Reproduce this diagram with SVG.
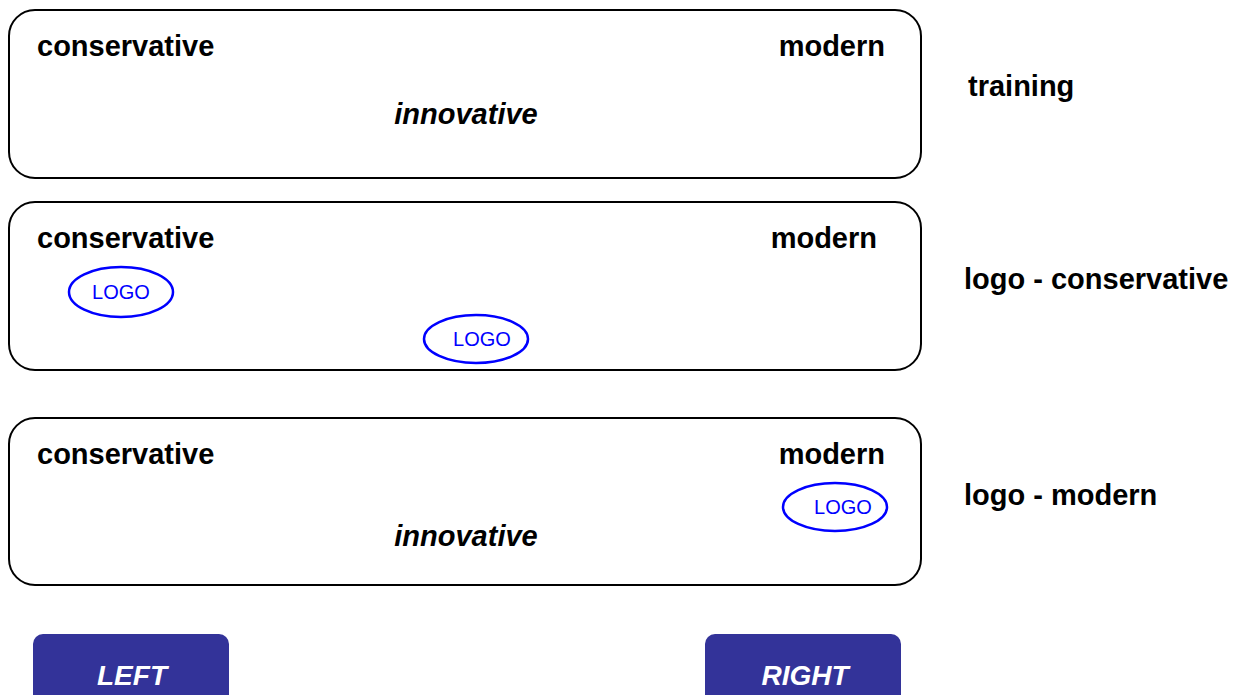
<svg xmlns="http://www.w3.org/2000/svg" width="1245" height="695" viewBox="0 0 1245 695">
<style>
.box{fill:#fff;stroke:#000;stroke-width:2}
.t{font-family:"Liberation Sans",Arial,sans-serif;font-size:29px;font-weight:bold;fill:#000}
.i{font-style:italic}
.logo{fill:#fff;stroke:#0000ff;stroke-width:2.5}
.lt{font-family:"Liberation Sans",Arial,sans-serif;font-size:20px;fill:#0000ff}
.btn{fill:#333399}
.bt{font-family:"Liberation Sans",Arial,sans-serif;font-size:28px;font-weight:bold;font-style:italic;fill:#fff}
</style>
<rect width="1245" height="695" fill="#fff"/>
<g id="panel-training">
<rect class="box" x="9" y="10" width="912" height="168" rx="26"/>
<text class="t" x="37" y="56">conservative</text>
<text class="t" x="885" y="56" text-anchor="end">modern</text>
<text class="t i" x="466" y="124" text-anchor="middle">innovative</text>
</g>
<g id="label-training"><text class="t" x="968" y="96">training</text></g>
<g id="panel-logo-conservative">
<rect class="box" x="9" y="202" width="912" height="168" rx="26"/>
<text class="t" x="37" y="248">conservative</text>
<text class="t" x="877" y="248" text-anchor="end">modern</text>
</g>
<g id="logo-1">
<ellipse class="logo" cx="121" cy="292" rx="52" ry="25"/>
<text class="lt" x="121" y="299" text-anchor="middle">LOGO</text>
</g>
<g id="logo-2">
<ellipse class="logo" cx="476" cy="339" rx="52" ry="24"/>
<text class="lt" x="482" y="346" text-anchor="middle">LOGO</text>
</g>
<g id="label-logo-conservative"><text class="t" x="964" y="289">logo - conservative</text></g>
<g id="panel-logo-modern">
<rect class="box" x="9" y="418" width="912" height="167" rx="26"/>
<text class="t" x="37" y="464">conservative</text>
<text class="t" x="885" y="464" text-anchor="end">modern</text>
<text class="t i" x="466" y="546" text-anchor="middle">innovative</text>
</g>
<g id="logo-3">
<ellipse class="logo" cx="835" cy="507" rx="52" ry="24"/>
<text class="lt" x="843" y="514" text-anchor="middle">LOGO</text>
</g>
<g id="label-logo-modern"><text class="t" x="964" y="505">logo - modern</text></g>
<g id="btn-left">
<rect class="btn" x="33" y="634" width="196" height="80" rx="10"/>
<text class="bt" x="132" y="685" text-anchor="middle">LEFT</text>
</g>
<g id="btn-right">
<rect class="btn" x="705" y="634" width="196" height="80" rx="10"/>
<text class="bt" x="805" y="685" text-anchor="middle">RIGHT</text>
</g>
<g id="connectors"></g>
</svg>
